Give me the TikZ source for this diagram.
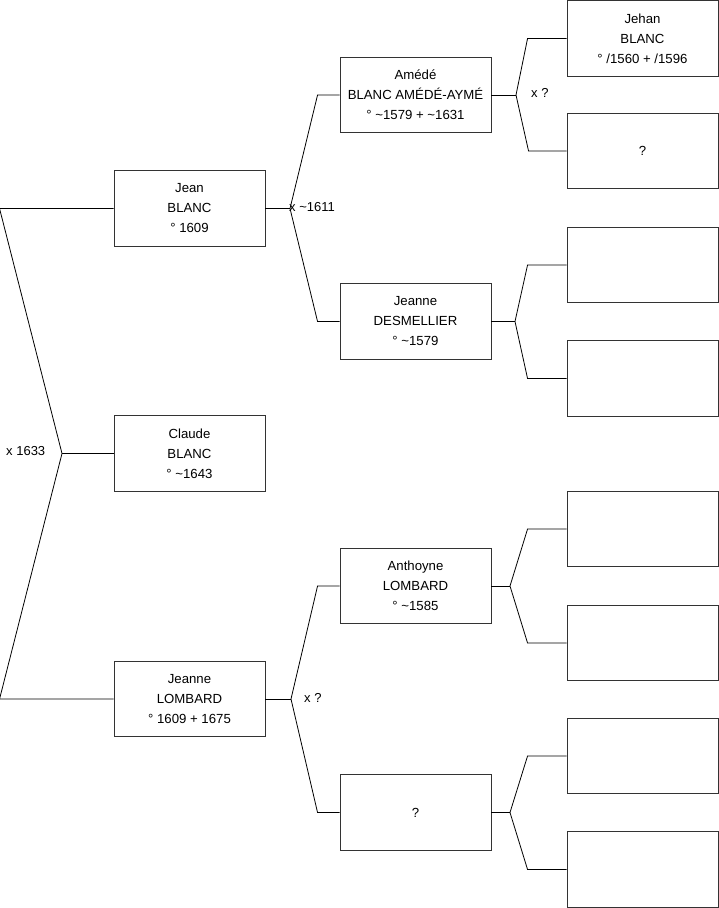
\documentclass[tikz,border=0pt]{standalone}
\usepackage{fontspec}
\setmainfont{Liberation Sans}
\usetikzlibrary{calc}

\begin{document}
\begin{tikzpicture}[x=1pt, y=-1pt,
    person/.style={rectangle, draw=black!80, line width=0.9pt,
        minimum width=151pt, minimum height=75.5pt, inner sep=0pt,
        align=center, font=\fontsize{13.2}{20}\selectfont},
    link/.style={draw=black, line width=0.8pt},
    union/.style={anchor=west, inner sep=0pt, font=\fontsize{13}{14}\selectfont}
]
    \useasboundingbox (0,0) rectangle (719,908);

    % generation 1
    \node[person] (jean) at (189.5,208.5) {Jean\\BLANC\\° 1609};
    \node[person] (claude) at (189.5,453.5) {Claude\\BLANC\\° \textasciitilde1643};
    \node[person] (jeanneL) at (189.5,699) {Jeanne\\LOMBARD\\° 1609 + 1675};

    % generation 2
    \node[person] (amede) at (415.5,95) {Amédé\\BLANC AMÉDÉ-AYMÉ\\° \textasciitilde1579 + \textasciitilde1631};
    \node[person] (jeanneD) at (415.5,321.5) {Jeanne\\DESMELLIER\\° \textasciitilde1579};
    \node[person] (anthoyne) at (415.5,586) {Anthoyne\\LOMBARD\\° \textasciitilde1585};
    \node[person] (unkM) at (415.5,812.5) {?};

    % generation 3
    \node[person] (jehan) at (642.5,38.5) {Jehan\\BLANC\\° /1560 + /1596};
    \node[person] (unkA) at (642.5,151) {?};
    \node[person] (d1) at (642.5,265) {};
    \node[person] (d2) at (642.5,378.5) {};
    \node[person] (a1) at (642.5,529) {};
    \node[person] (a2) at (642.5,643) {};
    \node[person] (u1) at (642.5,756) {};
    \node[person] (u2) at (642.5,869.5) {};

    % root couple
    \coordinate (xR) at (62,453.5);
    \draw[link] (jean.west) -- ++(-114,0) -- (xR) -- ($(jeanneL.west)+(-114,0)$) -- (jeanneL.west);
    \draw[link] (xR) -- (claude.west);
    \node[union] (mR) at (6,451) {x 1633};

    % parents of Jean
    \coordinate (xJ) at (290,208.5);
    \draw[link] (jean.east) -- (xJ);
    \draw[link] (amede.west) -- ++(-22,0) -- (xJ) -- ($(jeanneD.west)+(-22,0)$) -- (jeanneD.west);
    \node[union] (mJ) at (289,207) {x \textasciitilde1611};

    % parents of Jeanne Lombard
    \coordinate (xL) at (291,699);
    \draw[link] (jeanneL.east) -- (xL);
    \draw[link] (anthoyne.west) -- ++(-22,0) -- (xL) -- ($(unkM.west)+(-22,0)$) -- (unkM.west);
    \node[union] (mL) at (304,698) {x ?};

    % parents of Amede
    \coordinate (xA) at (516,95);
    \draw[link] (amede.east) -- (xA);
    \draw[link] (jehan.west) -- ++(-39,0) -- (xA) -- ($(unkA.west)+(-38,0)$) -- (unkA.west);
    \node[union] (mA) at (531,93) {x ?};

    % parents of Jeanne Desmellier
    \coordinate (xD) at (515,321.5);
    \draw[link] (jeanneD.east) -- (xD);
    \draw[link] (d1.west) -- ++(-39,0) -- (xD) -- ($(d2.west)+(-39,0)$) -- (d2.west);

    % parents of Anthoyne
    \coordinate (xN) at (510,586);
    \draw[link] (anthoyne.east) -- (xN);
    \draw[link] (a1.west) -- ++(-39,0) -- (xN) -- ($(a2.west)+(-39,0)$) -- (a2.west);

    % parents of the unknown
    \coordinate (xU) at (510,812.5);
    \draw[link] (unkM.east) -- (xU);
    \draw[link] (u1.west) -- ++(-39,0) -- (xU) -- ($(u2.west)+(-39,0)$) -- (u2.west);
\end{tikzpicture}
\end{document}
